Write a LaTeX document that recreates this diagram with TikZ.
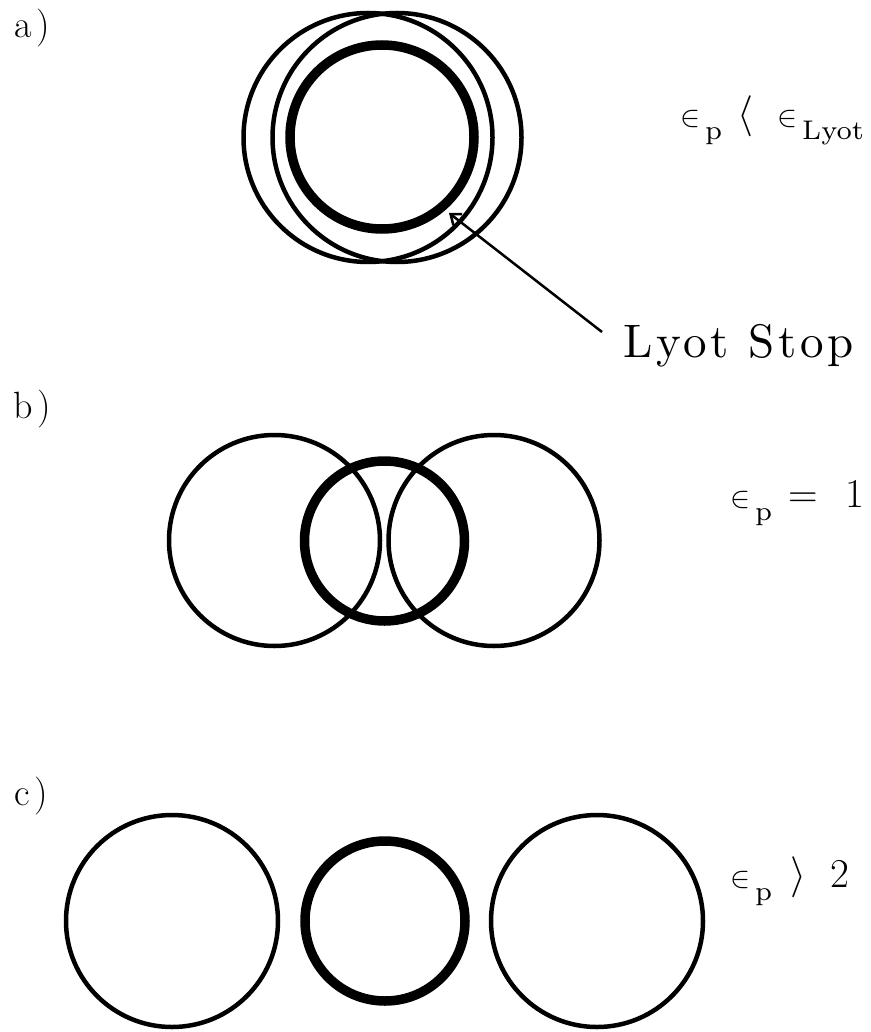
\documentclass[tikz,border=0pt]{standalone}
\usepackage{fix-cm}
\usepackage{fontspec}
\usetikzlibrary{arrows.meta}
\newfontfamily\subfont{lmroman7-regular.otf}
\newfontfamily\spacedfont{lmroman10-regular.otf}[LetterSpace=8]
% upright epsilon, and a subscript set lower than usual, as in the original plot
\newcommand{\upeps}{\mbox{\fontsize{30}{30}\selectfont$\in$}}
\newcommand{\lowsub}[1]{\raisebox{-13pt}{\hspace{5pt}\subfont\fontsize{27}{30}\selectfont #1}}
\begin{document}
\begin{tikzpicture}[x=1pt, y=-1pt,
        ring/.style={draw, circle, line width=4.5pt, inner sep=0pt, minimum size=#1},
        lyotring/.style={draw, circle, line width=9.5pt, inner sep=0pt, minimum size=#1},
        panel/.style={anchor=base west, inner sep=0pt, font=\fontsize{38}{40}\selectfont},
        eqn/.style={anchor=base west, inner sep=0pt, font=\fontsize{41}{44}\selectfont},
    ]
    \useasboundingbox (0,0) rectangle (870,1032);

    % a)
    \node[panel] (taga) at (14,38) {a\hspace{5pt})};
    \node[ring=249pt] (aleft) at (368,137.5) {};
    \node[ring=249pt] (aright) at (397,137.5) {};
    \node[lyotring=184pt] (alyot) at (382,137) {};
    \node[eqn] (eqa) at (680,127) {\upeps\lowsub{p}\hspace{15pt}$\langle$\hspace{24pt}\upeps\lowsub{Lyot}};
    \node[anchor=base west, inner sep=0pt,
        font=\spacedfont\fontsize{47}{50}\selectfont] (stoplabel) at (623,357) {Lyot Stop};
    \coordinate (lyottip) at (449,213);
    \draw[line width=2.5pt, -{Straight Barb[length=9pt,width=14pt]}]
        ([shift={(-21,-25)}]stoplabel.base west) -- (lyottip);

    % b)
    \node[panel] (tagb) at (13,418) {b\hspace{5pt})};
    \node[ring=211pt] (bleft) at (274.5,540.5) {};
    \node[ring=211pt] (bright) at (494,540.5) {};
    \node[lyotring=160pt] (blyot) at (384.5,541) {};
    \node[eqn] (eqb) at (730,507) {\upeps\lowsub{p}\hspace{16pt}$=$\hspace{28pt}1};

    % c)
    \node[panel] (tagc) at (14,805) {c\hspace{5pt})};
    \node[ring=212pt] (cleft) at (172,921) {};
    \node[lyotring=160pt] (clyot) at (385,921) {};
    \node[ring=212pt] (cright) at (597,921) {};
    \node[eqn] (eqc) at (730,887) {\upeps\lowsub{p}\hspace{18pt}$\rangle$\hspace{24pt}2};
\end{tikzpicture}
\end{document}
